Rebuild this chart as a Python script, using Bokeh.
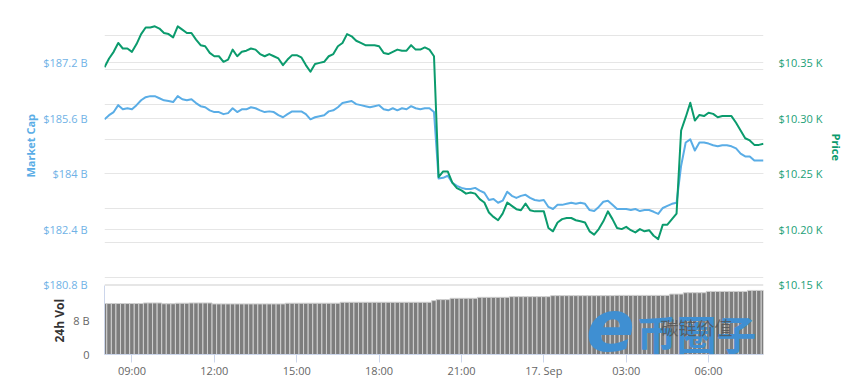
import pandas as pd
from bokeh.plotting import figure
from bokeh.models import (Range1d, LinearAxis, FixedTicker, CustomJSTickFormatter,
                          Grid, Label, Title, ColumnDataSource)
from bokeh.embed import file_html
from bokeh.resources import INLINE

# ---------------- data ----------------
start_time = "2019-09-16 08:00"
step = "10min"

price = [
    10346, 10354, 10360, 10368, 10363, 10363, 10360, 10367, 10376, 10382,
    10382, 10383, 10381, 10377, 10376, 10373, 10383, 10380, 10377, 10377,
    10371, 10366, 10365, 10359, 10356, 10356, 10351, 10353, 10362, 10356,
    10360, 10361, 10363, 10362, 10358, 10356, 10358, 10356, 10354, 10348,
    10353, 10357, 10357, 10355, 10348, 10342, 10349, 10350, 10351, 10356,
    10358, 10365, 10368, 10376, 10374, 10370, 10368, 10366, 10366, 10366,
    10365, 10359, 10358, 10360, 10362, 10361, 10361, 10366, 10362, 10362,
    10364, 10362, 10356, 10247, 10252, 10252, 10242, 10237, 10235, 10232,
    10233, 10232, 10227, 10224, 10215, 10211, 10208, 10214, 10224, 10221,
    10218, 10217, 10223, 10217, 10216, 10216, 10216, 10201, 10198, 10206,
    10209, 10210, 10210, 10208, 10207, 10206, 10198, 10195, 10200, 10207,
    10216, 10209, 10201, 10200, 10202, 10199, 10197, 10200, 10198, 10199,
    10194, 10191, 10204, 10204, 10209, 10214, 10289, 10301, 10314, 10298,
    10303, 10302, 10305, 10304, 10301, 10302, 10302, 10302, 10296, 10289,
    10282, 10280, 10276, 10276, 10277,
]

market_cap = [  # USD billions
    185.57, 185.69, 185.78, 185.98, 185.86, 185.89, 185.86, 185.98, 186.12, 186.21,
    186.24, 186.24, 186.18, 186.12, 186.10, 186.07, 186.24, 186.15, 186.12, 186.15,
    186.04, 185.95, 185.92, 185.83, 185.78, 185.78, 185.72, 185.75, 185.89, 185.78,
    185.86, 185.86, 185.92, 185.89, 185.83, 185.78, 185.80, 185.78, 185.69, 185.63,
    185.72, 185.80, 185.80, 185.80, 185.72, 185.57, 185.63, 185.66, 185.69, 185.80,
    185.83, 185.92, 186.04, 186.07, 186.10, 186.01, 185.98, 185.95, 185.92, 185.95,
    185.98, 185.86, 185.83, 185.89, 185.83, 185.89, 185.86, 185.95, 185.89, 185.86,
    185.89, 185.89, 185.78, 183.86, 183.88, 183.94, 183.74, 183.65, 183.59, 183.56,
    183.56, 183.59, 183.51, 183.45, 183.24, 183.27, 183.16, 183.22, 183.48, 183.36,
    183.30, 183.36, 183.39, 183.30, 183.24, 183.22, 183.24, 183.04, 182.98, 183.10,
    183.10, 183.13, 183.16, 183.13, 183.16, 183.13, 182.95, 182.92, 183.04, 183.19,
    183.22, 183.10, 182.98, 182.98, 182.98, 182.95, 182.98, 182.92, 182.95, 182.95,
    182.90, 182.84, 183.01, 183.07, 183.13, 183.16, 184.23, 184.90, 184.99, 184.67,
    184.90, 184.90, 184.87, 184.82, 184.79, 184.82, 184.82, 184.79, 184.73, 184.58,
    184.50, 184.50, 184.38, 184.38, 184.38,
]

volume = [  # 24h volume, USD billions
    11.82, 11.82, 11.82, 11.82, 11.82, 11.82, 11.82, 11.82, 11.82, 11.95,
    11.95, 11.95, 11.95, 11.77, 11.77, 11.77, 11.89, 11.89, 11.89, 11.95,
    11.95, 11.95, 11.95, 11.95, 11.73, 11.73, 11.73, 11.73, 11.73, 11.73,
    11.73, 11.73, 11.73, 11.73, 11.73, 11.73, 11.73, 11.73, 11.73, 11.73,
    11.89, 11.89, 11.89, 11.89, 11.89, 11.89, 11.89, 11.89, 11.89, 11.89,
    11.89, 11.89, 12.11, 12.11, 12.11, 12.11, 12.11, 12.11, 12.11, 12.11,
    12.11, 12.11, 12.11, 12.11, 12.11, 12.11, 12.11, 12.11, 12.11, 12.11,
    12.11, 12.11, 12.50, 12.73, 12.73, 12.73, 13.03, 13.03, 13.03, 13.03,
    13.03, 13.03, 13.26, 13.26, 13.26, 13.26, 13.26, 13.26, 13.26, 13.42,
    13.42, 13.42, 13.42, 13.42, 13.42, 13.42, 13.42, 13.42, 13.65, 13.65,
    13.65, 13.65, 13.65, 13.65, 13.65, 13.65, 13.65, 13.65, 13.65, 13.65,
    13.65, 13.65, 13.71, 13.71, 13.71, 13.71, 13.71, 13.71, 13.71, 13.71,
    13.71, 13.71, 13.71, 13.71, 14.01, 14.01, 14.01, 14.33, 14.33, 14.33,
    14.33, 14.33, 14.63, 14.63, 14.63, 14.63, 14.63, 14.63, 14.63, 14.63,
    14.63, 14.86, 14.86, 14.86, 14.86,
]

mcap_ticks = [180.8, 182.4, 184.0, 185.6, 187.2, 188.8]
price_ticks = [10150, 10200, 10250, 10300, 10350, 10400]
vol_ticks = [0, 8, 16]
time_ticks = ["2019-09-16 09:00", "2019-09-16 12:00", "2019-09-16 15:00",
              "2019-09-16 18:00", "2019-09-16 21:00", "2019-09-17 00:00",
              "2019-09-17 03:00", "2019-09-17 06:00"]
time_labels = ["09:00", "12:00", "15:00", "18:00", "21:00", "17. Sep", "03:00", "06:00"]

# ---------------- layout / style ----------------
TOP_H, GAP, VOL_H = 277, 1, 69
FRAME_H = TOP_H + GAP + VOL_H

BLUE = "#5aade6"
BLUE_TXT = "#6fb2e6"
GREEN = "#0b9b6d"
GREEN_TXT = "#22a077"
GRID = "#e6e6e6"
AXIS = "#ccd6eb"
FONT = "Open Sans"

times = pd.date_range(start_time, periods=len(price), freq=step)
t_ms = (times.astype("int64") // 10**6).tolist()
tick_ms = (pd.to_datetime(time_ticks).astype("int64") // 10**6).tolist()
bar_w = pd.Timedelta(step).total_seconds() * 1000

src = ColumnDataSource(dict(t=t_ms, price=price, mcap=market_cap, vol=volume))


def pane_range(lo, hi):
    per_px = (hi - lo) / TOP_H
    return Range1d(lo - (GAP + VOL_H) * per_px, hi)


mc_lo, mc_hi = mcap_ticks[0], mcap_ticks[-1]
pr_lo, pr_hi = price_ticks[0], price_ticks[-1]
v_hi = vol_ticks[-1]

p = figure(width=864, height=7 + FRAME_H + 30, output_backend="svg", toolbar_location=None,
           x_range=Range1d(t_ms[0], t_ms[-1]), y_range=pane_range(mc_lo, mc_hi),
           y_axis_location=None,
           min_border_left=104, min_border_right=101, min_border_top=7, min_border_bottom=30,
           title=None, background_fill_color="white", border_fill_color="white",
           outline_line_color=None)
p.extra_y_ranges = {
    "price": pane_range(pr_lo, pr_hi),
    "vol": Range1d(0, v_hi * FRAME_H / VOL_H),
}

# grids
p.xgrid.visible = False
p.add_layout(Grid(dimension=1, ticker=FixedTicker(ticks=mcap_ticks), grid_line_color=GRID))
p.add_layout(Grid(dimension=1, y_range_name="vol", ticker=FixedTicker(ticks=vol_ticks[1:]),
                  grid_line_color=GRID))

# volume axis (left, next to the frame)
va = LinearAxis(y_range_name="vol", ticker=FixedTicker(ticks=vol_ticks), bounds=(0, v_hi),
                formatter=CustomJSTickFormatter(args=dict(top_val=v_hi), code="""
    if (tick == 0) return '0';
    if (Math.abs(tick - top_val) < 1e-6) return '';
    return tick + ' B';
"""))
# market cap axis (left; its labels are pulled back toward the frame)
ya = LinearAxis(ticker=FixedTicker(ticks=mcap_ticks), bounds=(mc_lo, mc_hi),
                formatter=CustomJSTickFormatter(args=dict(top_val=mc_hi), code="""
    if (Math.abs(tick - top_val) < 1e-6) return '';
    return '$' + (Math.round(tick * 10) / 10) + ' B';
"""))
# price axis (right)
pa = LinearAxis(y_range_name="price", ticker=FixedTicker(ticks=price_ticks),
                bounds=(pr_lo, pr_hi),
                formatter=CustomJSTickFormatter(args=dict(top_val=pr_hi), code="""
    if (Math.abs(tick - top_val) < 1e-6) return '';
    return '$' + (tick / 1000).toFixed(2) + ' K';
"""))

# axis titles, each centred on its own pane
t_vol = Title(text="24h Vol", align="left", offset=12, standoff=6, vertical_align="bottom",
              text_font=FONT, text_font_size="12px", text_font_style="bold",
              text_color="#333333")
t_mc = Title(text="Market Cap", align="left", offset=177, standoff=6, vertical_align="bottom",
             text_font=FONT, text_font_size="11px", text_font_style="bold", text_color=BLUE)
t_pr = Title(text="Price", align="left", offset=126, standoff=6, vertical_align="bottom",
             text_font=FONT, text_font_size="11px", text_font_style="bold", text_color=GREEN)

p.add_layout(va, "left")
p.add_layout(t_vol, "left")
p.add_layout(ya, "left")
p.add_layout(t_mc, "left")
p.add_layout(pa, "right")
p.add_layout(t_pr, "right")

for ax, col, lso in [(ya, BLUE_TXT, -42), (pa, GREEN_TXT, 15), (va, "#666666", 15)]:
    ax.axis_line_color = None
    ax.major_tick_line_color = None
    ax.minor_tick_line_color = None
    ax.major_tick_out = 0
    ax.major_tick_in = 0
    ax.major_label_standoff = lso
    ax.major_label_text_color = col
    ax.major_label_text_font = FONT
    ax.major_label_text_font_size = "11px"
va.axis_line_color = AXIS

xa = p.xaxis[0]
xa.ticker = FixedTicker(ticks=tick_ms)
xa.formatter = CustomJSTickFormatter(args=dict(tick_vals=tick_ms, tick_text=time_labels), code="""
    const i = tick_vals.indexOf(tick);
    return i < 0 ? '' : tick_text[i];
""")
xa.axis_line_color = AXIS
xa.major_tick_line_color = AXIS
xa.minor_tick_line_color = None
xa.major_tick_out = 8
xa.major_tick_in = 0
xa.major_label_standoff = 0
xa.major_label_text_color = "#666666"
xa.major_label_text_font = FONT
xa.major_label_text_font_size = "11px"

# glyphs
p.vbar(x="t", top="vol", width=bar_w, source=src, y_range_name="vol",
       fill_color="#7d7d7d", line_color="#d0d0d0", line_width=1)
p.line("t", "mcap", source=src, line_color=BLUE, line_width=2, line_join="round")
p.line("t", "price", source=src, y_range_name="price", line_color=GREEN, line_width=2,
       line_join="round")

# watermark (kept inside the plot frame)
wm_blue = "#3f8fd2"
p.add_layout(Label(x=506, y=30, x_units="screen", y_units="screen", text="e",
                   text_font="DejaVu Sans", text_font_style="bold italic",
                   text_font_size="72px", text_color=wm_blue, text_align="center",
                   text_baseline="middle"))
p.add_layout(Label(x=532, y=22, x_units="screen", y_units="screen", text="币圈子",
                   text_font="Noto Sans CJK SC", text_font_style="bold",
                   text_font_size="40px", text_color=wm_blue, text_align="left",
                   text_baseline="middle"))
p.add_layout(Label(x=556, y=28, x_units="screen", y_units="screen", text="碳链价值",
                   text_font="Noto Sans CJK SC", text_font_size="18px",
                   text_color="#555555", text_alpha=0.85, text_align="left",
                   text_baseline="middle"))

open("out.html", "w").write(file_html(p, INLINE))
